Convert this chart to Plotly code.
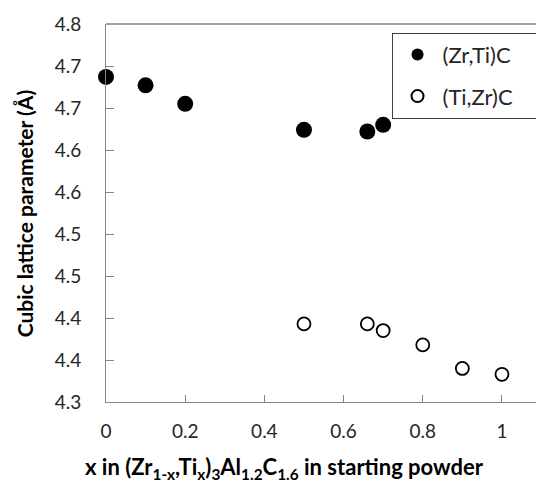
import plotly.graph_objects as go

x_zrti = [0, 0.1, 0.2, 0.5, 0.66, 0.7]
y_zrti = [4.687, 4.677, 4.655, 4.624, 4.622, 4.630]

x_tizr = [0.5, 0.66, 0.7, 0.8, 0.9, 1.0]
y_tizr = [4.393, 4.393, 4.385, 4.368, 4.340, 4.333]

y_tickvals = [4.30, 4.35, 4.40, 4.45, 4.50, 4.55, 4.60, 4.65, 4.70, 4.75]
y_ticktext = ["4.3", "4.4", "4.4", "4.5", "4.5", "4.6", "4.6", "4.7", "4.7", "4.8"]
x_tickvals = [0, 0.2, 0.4, 0.6, 0.8, 1.0]
x_ticktext = ["0", "0.2", "0.4", "0.6", "0.8", "1"]

FONT = "Lato, 'Open Sans', sans-serif"
AX = "#868686"
PAD = "\u00a0\u00a0\u00a0"

fig = go.Figure()
fig.add_trace(go.Scatter(
    x=x_zrti, y=y_zrti, mode="markers", name="(Zr,Ti)C" + PAD, legendgroup="a",
    marker=dict(size=16, color="black", line=dict(width=0)),
    cliponaxis=False,
))
fig.add_trace(go.Scatter(
    x=x_tizr, y=y_tizr, mode="markers", name="(Ti,Zr)C" + PAD, legendgroup="b",
    marker=dict(size=13, color="white", line=dict(width=1.8, color="black")),
    cliponaxis=False,
))

fig.update_layout(
    width=536, height=484,
    margin=dict(l=106, r=0, t=24, b=82, autoexpand=False),
    paper_bgcolor="white", plot_bgcolor="white",
    font=dict(family=FONT, size=19, color="#262626"),
    showlegend=True,
    legend=dict(
        x=0.664, y=0.977, xanchor="left", yanchor="top",
        bordercolor="#404040", borderwidth=1, bgcolor="white",
        font=dict(family=FONT, size=22, color="#262626"),
        itemsizing="constant", tracegroupgap=10, itemwidth=40,
    ),
    xaxis=dict(
        range=[0, 1.086], tickvals=x_tickvals, ticktext=x_ticktext,
        showgrid=False, zeroline=False, showline=True, linecolor=AX, linewidth=1,
        ticks="inside", ticklen=7, tickcolor=AX, ticklabelstandoff=12,
        tickfont=dict(family=FONT, size=19, color="#262626"),
    ),
    yaxis=dict(
        range=[4.30, 4.75], tickvals=y_tickvals, ticktext=y_ticktext,
        showgrid=False, zeroline=False, showline=True, linecolor=AX, linewidth=1,
        ticks="inside", ticklen=8, tickcolor=AX, ticklabelstandoff=20,
        tickfont=dict(family=FONT, size=19, color="#262626"),
    ),
    shapes=[dict(type="line", xref="x domain", yref="y domain", x0=0, x1=1, y0=1, y1=1,
                 line=dict(color=AX, width=1.5))],
    annotations=[
        dict(text="<b>x in (Zr<sub>1-x</sub>,Ti<sub>x</sub>)<sub>3</sub>Al<sub>1.2</sub>C<sub>1.6</sub> in starting powder</b>",
             xref="paper", yref="paper", x=0.414, y=-0.174, xanchor="center", yanchor="middle",
             showarrow=False, font=dict(family=FONT, size=22, color="black")),
        dict(text="<b>Cubic lattice parameter (Å)</b>",
             xref="paper", yref="paper", x=-0.19, y=0.5, xanchor="center", yanchor="middle",
             textangle=-90, showarrow=False, font=dict(family=FONT, size=21, color="black")),
    ],
)

fig.write_html("out.html")
